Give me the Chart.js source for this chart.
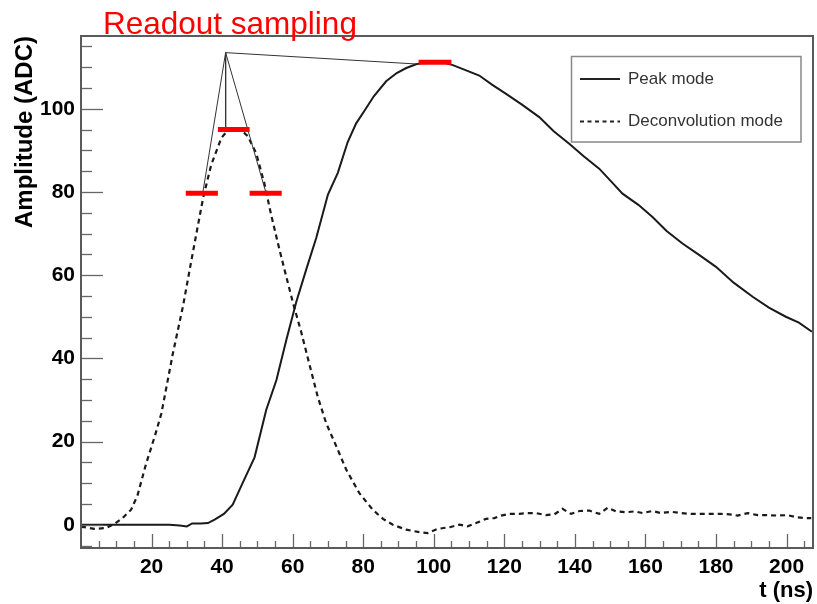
<!DOCTYPE html>
<html><head><meta charset="utf-8">
<script src="https://cdn.jsdelivr.net/npm/chart.js@4.4.1/dist/chart.umd.min.js"></script>
<style>html,body{margin:0;padding:0;background:#fff;}#wrap{width:817px;height:604px;position:relative;}</style>
</head><body><div id="wrap"><canvas id="c" width="817" height="604"></canvas></div>
<script>
// ---- data ----
const seriesNames = ['Peak mode', 'Deconvolution mode'];
const peakT = [0,5,10,15,20,25,28,30,31.5,34,36,38,40.5,43,45.8,49.2,52.5,55.4,58.2,61,63.9,66.7,70,72.8,75.6,78,80.4,83,86.5,89.5,92.2,95,97.5,100,102.5,105.4,109,112.9,116.5,120.5,125,129.9,134,138.4,142.5,146.9,150,153.5,158,162,166,170.5,175,180,185,190.4,195,199.8,203.5,207.2];
const peakV = [0,0,0,0,0,0,-0.2,-0.4,0.3,0.3,0.4,1.3,2.6,4.8,10,16.2,27.6,34.8,44.4,53.5,61.5,69,79.4,84.6,92,96.5,99.6,103,106.6,108.6,109.8,110.7,111.1,111.3,111.2,110.5,109.3,108,105.8,103.6,101,98,94.6,91.6,88.6,85.6,82.8,79.6,76.9,74,70.6,67.6,65,62,58.2,54.8,52.2,50,48.6,46.4];
const deconvT = [0,1,3.8,7.1,9.5,11.8,14.2,16,18.4,21,22.8,25.1,26,28.9,31.3,33.6,34.6,36.9,39.8,42,44,45.5,47.3,49.7,52,53.9,56.3,58.2,60.2,62.4,64.8,67.1,69.5,72.4,75.2,78.9,82.7,85.6,88.4,92.2,95.9,98.3,101.1,104.5,107.3,109.6,112,114.8,117.2,119.1,121.4,124.3,126.6,129,131.8,134.2,136.5,138.9,141.3,144.1,146.9,149.3,151.7,154.5,156.9,159.2,162,164.4,167.3,170.1,172.9,175.8,178.6,181.4,183.8,186.1,189,191.8,194.6,197.5,200.3,202.7,205.5,207];
const deconvV = [-0.5,-0.6,-1,-0.8,0.2,1.6,3.6,7,14.5,21.5,26.8,37,41,52.5,63.6,74,78.5,86.5,93,95.2,95.3,94.8,93.4,89.2,82,74.5,66,59.6,53,46.4,38.4,30.8,24.4,18.8,13.2,7.6,3.6,1.4,0,-1.2,-1.8,-2,-1,-0.6,0,-0.4,0.4,1.4,1.6,2.2,2.6,2.6,2.8,2.8,2.3,2.5,3.8,2.6,3.3,3.4,2.6,4.1,3.2,3,3.2,2.8,3.3,2.8,3.1,2.8,2.6,2.6,2.6,2.6,2.5,2.2,2.8,2.3,2.3,2.2,2.3,1.8,1.6,1.6];
// readout sampling annotation (red samples and guide lines)
const sampleStart = [29.7, 38.8, 47.8, 95.7];
const sampleEnd   = [38.8, 47.8, 56.9, 105.0];
const sampleAmp   = [79.7, 95.0, 79.7, 111.2];
const apexT = 41, apexV = 113.5;
const guideT = [34.5, 41, 52.5, 95.4];
const guideV = [79.7, 94.8, 79.6, 110.75];
// axes
const xTickLabels = [20,40,60,80,100,120,140,160,180,200];
const yTickLabels = [0,20,40,60,80,100];
const xRange = [0, 207.5];
const yRange = [-5.6, 117.5];
const chartTitle = 'Readout sampling';
const xTitle = 't (ns)';
const yTitle = 'Amplitude (ADC)';

// ---- chart ----
const FONT = "'Liberation Sans', Arial, Helvetica, sans-serif";
const pts = (t, v) => t.map((x, i) => ({x: x, y: v[i]}));
const datasets = [
  {label: seriesNames[0], data: pts(peakT, peakV), borderColor: '#1a1a1a', borderWidth: 2, pointRadius: 0, tension: 0, order: 3, series: true},
  {label: seriesNames[1], data: pts(deconvT, deconvV), borderColor: '#1a1a1a', borderWidth: 2.2, borderDash: [5, 4], pointRadius: 0, tension: 0, order: 3, series: true}
];
guideT.forEach((t, i) => datasets.push({label: 'guide' + i, data: [{x: apexT, y: apexV}, {x: t, y: guideV[i]}], borderColor: '#333', borderWidth: 1, pointRadius: 0, order: 2}));
sampleStart.forEach((s, i) => datasets.push({label: 'sample' + i, data: [{x: s, y: sampleAmp[i]}, {x: sampleEnd[i], y: sampleAmp[i]}], borderColor: '#ff0000', borderWidth: 5, borderCapStyle: 'butt', pointRadius: 0, order: 1}));

const decor = {
  id: 'decor',
  afterDraw(chart) {
    const ctx = chart.ctx, a = chart.chartArea, xs = chart.scales.x, ys = chart.scales.y;
    ctx.save();
    // tick marks (inside the frame)
    ctx.strokeStyle = '#666'; ctx.lineWidth = 1.3;
    for (let v = -5; v <= 115; v += 5) {
      const y = Math.round(ys.getPixelForValue(v)) + 0.5;
      const len = (v % 20 === 0) ? 22 : 11;
      ctx.beginPath(); ctx.moveTo(a.left, y); ctx.lineTo(a.left + len, y); ctx.stroke();
    }
    for (let v = 5; v <= 205; v += 5) {
      const x = Math.round(xs.getPixelForValue(v)) + 0.5;
      const len = (v % 20 === 0) ? 14 : 7;
      ctx.beginPath(); ctx.moveTo(x, a.bottom); ctx.lineTo(x, a.bottom - len); ctx.stroke();
    }
    // frame
    ctx.strokeStyle = '#5a5a5a'; ctx.lineWidth = 2;
    ctx.strokeRect(a.left, a.top, a.right - a.left, a.bottom - a.top);
    // legend
    const lx = 571.5, ly = 56.5, lw = 229.5, lh = 85.5;
    ctx.fillStyle = '#fff'; ctx.fillRect(lx, ly, lw, lh);
    ctx.strokeStyle = '#888'; ctx.lineWidth = 1.5; ctx.strokeRect(lx, ly, lw, lh);
    const rows = [79, 121.5];
    chart.data.datasets.filter(d => d.series).forEach((d, i) => {
      ctx.strokeStyle = '#222'; ctx.lineWidth = 2;
      ctx.setLineDash(d.borderDash ? [4, 3.5] : []);
      ctx.beginPath(); ctx.moveTo(580, rows[i]); ctx.lineTo(620, rows[i]); ctx.stroke();
      ctx.setLineDash([]);
      ctx.fillStyle = '#333'; ctx.font = '17px ' + FONT; ctx.textBaseline = 'middle'; ctx.textAlign = 'left';
      ctx.fillText(d.label, 628, rows[i]);
    });
    // red annotation title
    ctx.fillStyle = '#ff0000'; ctx.font = '31.5px ' + FONT; ctx.textBaseline = 'alphabetic'; ctx.textAlign = 'left';
    ctx.fillText(chartTitle, 103, 33.5);
    ctx.restore();
  }
};

new Chart(document.getElementById('c'), {
  type: 'line',
  data: {datasets: datasets},
  options: {
    responsive: false, animation: false, devicePixelRatio: 1,
    layout: {padding: {top: 36, right: 4, left: 0, bottom: 0}},
    plugins: {legend: {display: false}, tooltip: {enabled: false}, title: {display: false}},
    scales: {
      x: {
        type: 'linear', min: xRange[0], max: xRange[1],
        grid: {display: false, drawTicks: false}, border: {display: false},
        ticks: {font: {family: FONT, size: 21, weight: 'bold'}, color: '#000', padding: 7, maxRotation: 0, autoSkip: false},
        title: {display: true, text: xTitle, align: 'end', color: '#000', font: {family: FONT, size: 22, weight: 'bold'}, padding: {top: 0, bottom: 0}},
        afterBuildTicks: s => { s.ticks = xTickLabels.map(v => ({value: v})); },
        afterFit: s => { s.height = 56; }
      },
      y: {
        type: 'linear', min: yRange[0], max: yRange[1],
        grid: {display: false, drawTicks: false}, border: {display: false},
        ticks: {font: {family: FONT, size: 21, weight: 'bold'}, color: '#000', padding: 6},
        title: {display: true, text: yTitle, align: 'end', color: '#000', font: {family: FONT, size: 24, weight: 'bold'}, padding: {top: 11, bottom: 0}},
        afterBuildTicks: s => { s.ticks = yTickLabels.map(v => ({value: v})); },
        afterFit: s => { s.width = 81; }
      }
    }
  },
  plugins: [decor]
});
</script></body></html>
